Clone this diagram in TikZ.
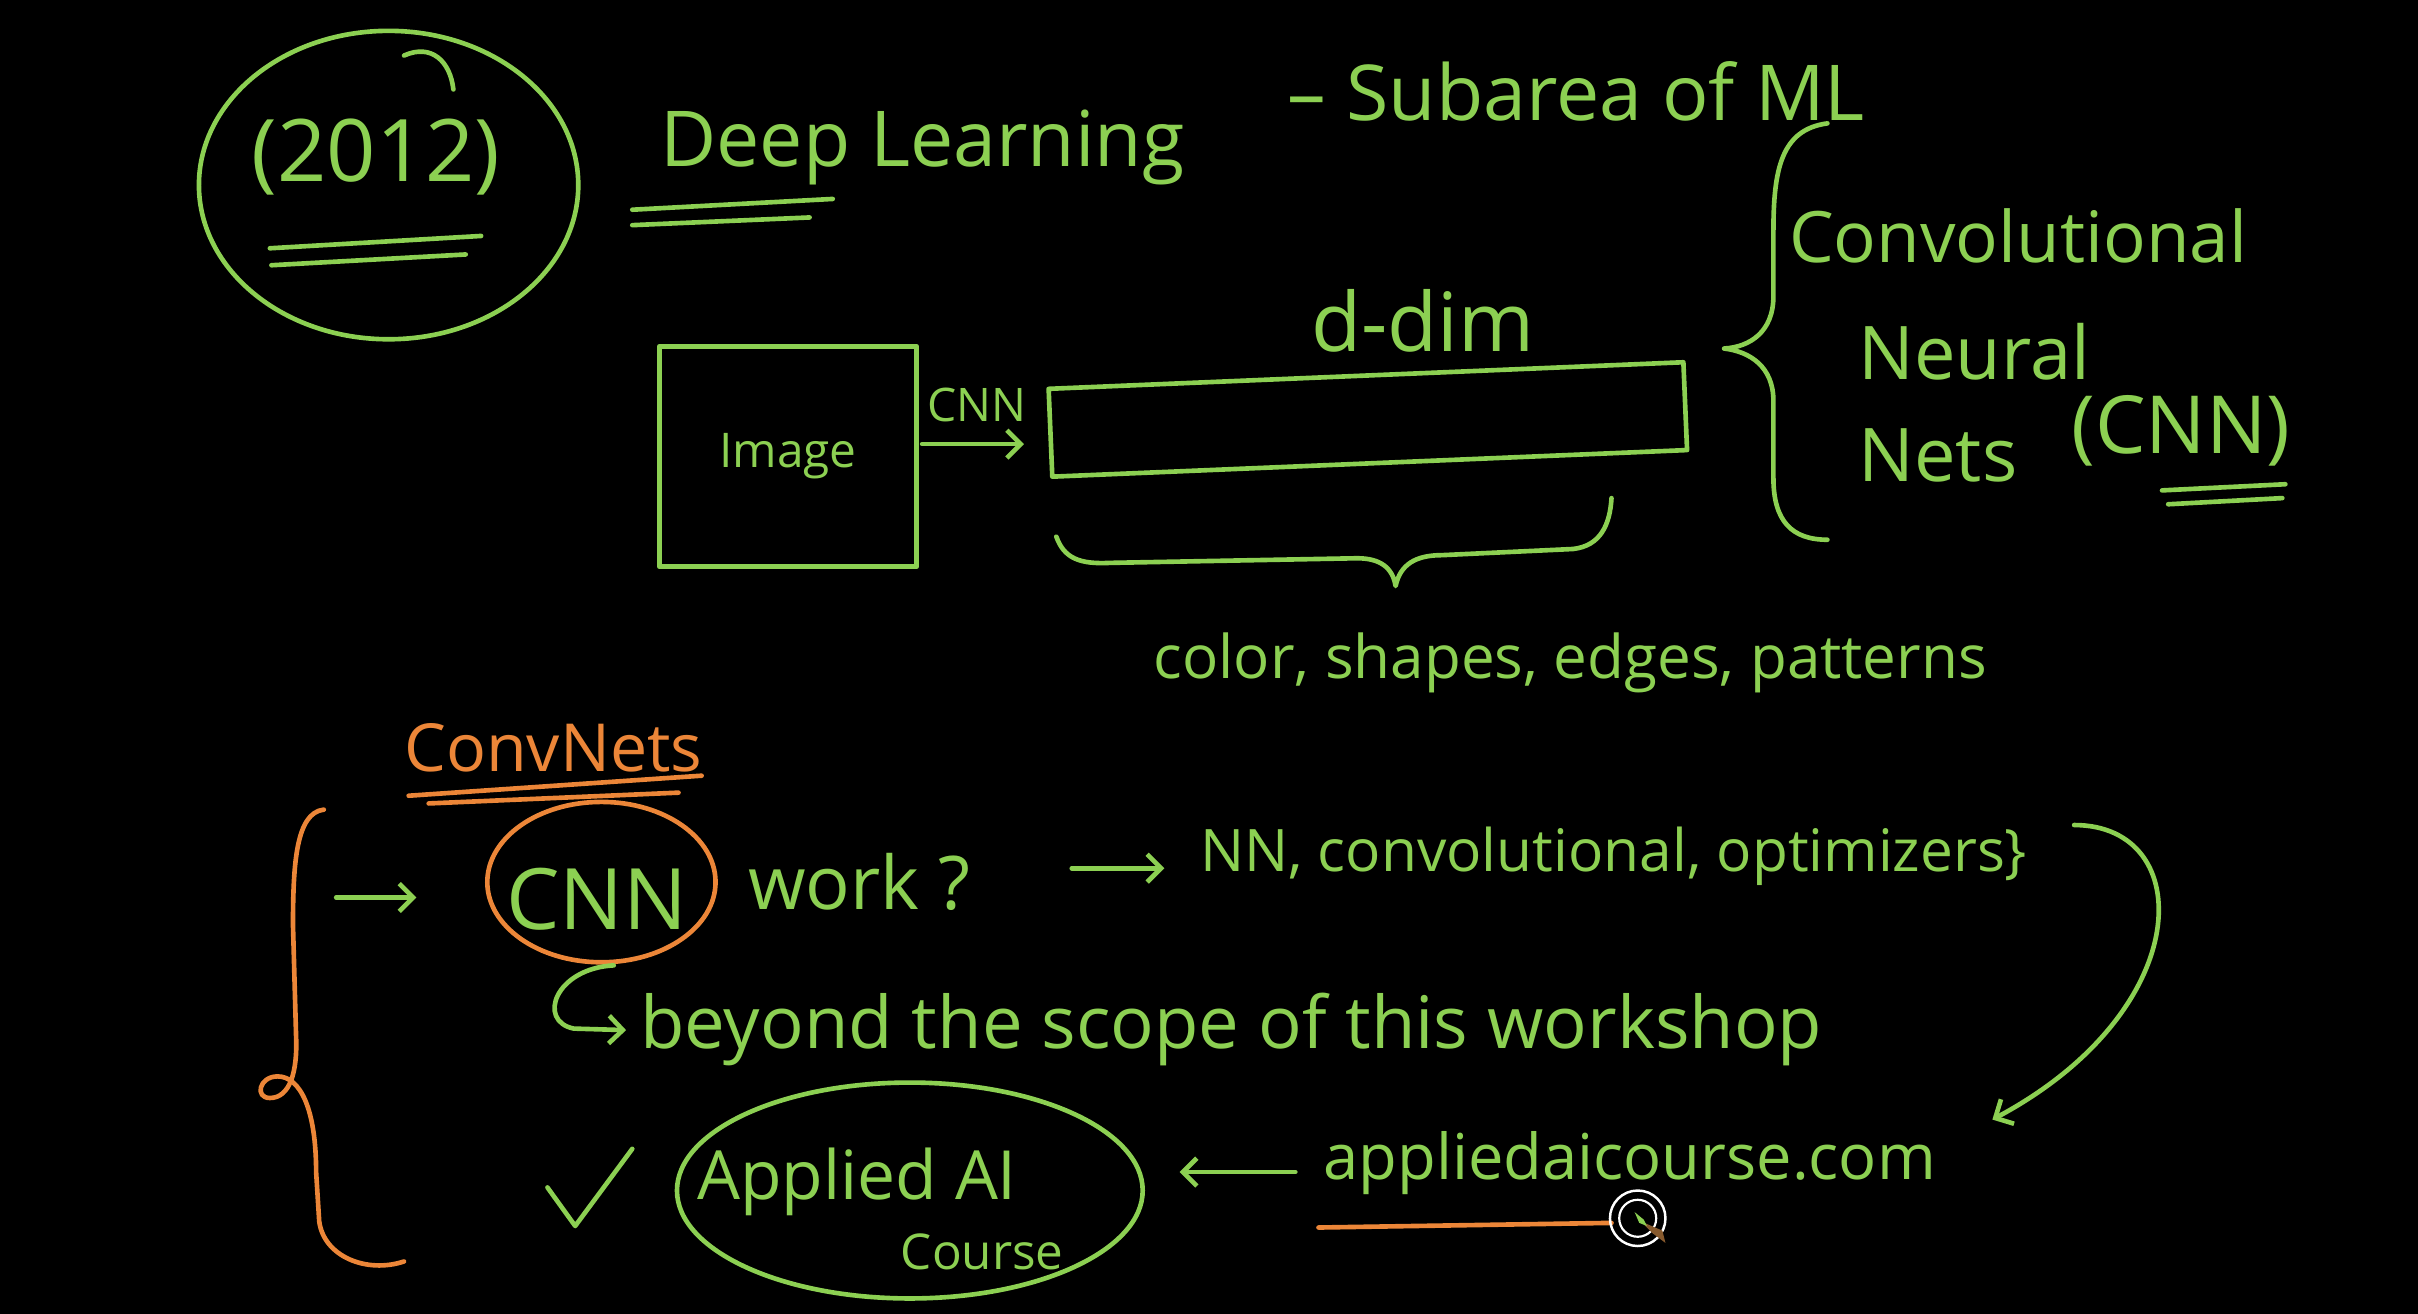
\documentclass[tikz,border=0pt]{standalone}
\usepackage{fontspec}
\setmainfont{Open Sans}
\usetikzlibrary{arrows.meta,shapes.geometric}
\definecolor{grn}{RGB}{140,208,82}
\definecolor{org}{RGB}{236,134,56}
\newcommand{\fsz}[1]{\fontsize{#1}{#1}\selectfont}
\begin{document}
\begin{tikzpicture}[x=1pt,y=-1pt,
  gl/.style={draw=grn, line width=3pt, line cap=round, line join=round},
  ol/.style={draw=org, line width=3pt, line cap=round, line join=round},
  hw/.style={text=grn, inner sep=0pt, anchor=base west},
  ho/.style={text=org, inner sep=0pt, anchor=base west},
  ring/.style={ellipse, gl, inner sep=0pt},
  arr/.style={-{Straight Barb[length=9pt,width=18pt]}},
]
\fill[black] (0,0) rectangle (1568,852);
\useasboundingbox (0,0) rectangle (1568,852);

% ---- 2012 ----
\node[ring, minimum width=246pt, minimum height=200pt] (ring2012) at (252,120) {};
\draw[gl] (262,36) .. controls (280,28) and (292,40) .. (294,58);
\node[hw, font=\fsz{56}] (y2012) at (163,118) {(2012)};
\draw[gl] (175,161) -- (312,153);
\draw[gl] (176,172) -- (302,165);

% ---- title ----
\node[hw, font=\fsz{50}] (deep) at (428,108) {Deep Learning};
\node[hw, font=\fsz{50}] (sub) at (835,78) {– Subarea of ML};
\draw[gl] (410,136) -- (540,129);
\draw[gl] (410,146) -- (525,141);

% ---- right brace and CNN name ----
\draw[gl] (1185,80) .. controls (1155,84) and (1150,110) .. (1150,150)
  -- (1150,192) .. controls (1150,215) and (1135,225) .. (1118,226)
  .. controls (1135,228) and (1150,238) .. (1150,260)
  -- (1150,310) .. controls (1150,338) and (1162,350) .. (1185,350);
\node[hw, font=\fsz{46}] (conv) at (1160,170) {Convolutional};
\node[hw, font=\fsz{48}] (neural) at (1205,246) {Neural};
\node[hw, font=\fsz{48}] (nets) at (1205,312) {Nets};
\node[hw, font=\fsz{52}] (cnnname) at (1343,294) {(CNN)};
\draw[gl] (1402,318) -- (1482,314);
\draw[gl] (1406,327) -- (1480,323);

% ---- image -> vector ----
\node[gl, draw, minimum width=167pt, minimum height=143pt, inner sep=0pt,
      text=grn, font=\fsz{31}] (img) at (511,296) {Image};
\node[gl, draw, rotate=2.4, minimum width=412pt, minimum height=57pt] (bar) at (887,272) {};
\node[hw, font=\fsz{30}] (cnnlbl) at (601,273) {CNN};
\coordinate (a1) at (598,288);
\coordinate (a2) at (664,288);
\draw[gl, arr] (a1) -- (a2);
\node[hw, font=\fsz{53}] (ddim) at (850,228) {d-dim};
\draw[gl] (685,348) .. controls (690,362) and (700,366) .. (720,365)
  -- (880,362) .. controls (895,362) and (903,368) .. (905,380)
  .. controls (908,366) and (918,360) .. (935,360)
  -- (1020,356) .. controls (1038,354) and (1044,340) .. (1045,323);
\node[hw, font=\fsz{39}] (feat) at (748,440) {color, shapes, edges, patterns};

% ---- ConvNets section ----
\node[ho, font=\fsz{43}] (convnets) at (262,500) {ConvNets};
\draw[ol] (265,516) -- (455,503);
\draw[ol] (278,521) -- (440,514);
\draw[ol] (210,525) .. controls (192,527) and (190,560) .. (190,600)
  -- (192,672) .. controls (193,695) and (188,712) .. (175,712)
  .. controls (165,712) and (168,698) .. (180,698)
  .. controls (195,698) and (205,720) .. (205,760)
  -- (207,792) .. controls (210,815) and (238,826) .. (262,818);
\coordinate (b1) at (218,582);
\coordinate (b2) at (270,582);
\draw[gl, arr] (b1) -- (b2);
\node[ring, draw=org, minimum width=148pt, minimum height=104pt] (cnnring) at (390,572) {};
\node[hw, font=\fsz{55}] (cnn) at (328,603) {CNN};
\node[hw, font=\fsz{48}] (work) at (485,590) {work ?};
\coordinate (c1) at (695,563);
\coordinate (c2) at (755,563);
\draw[gl, arr] (c1) -- (c2);
\node[hw, font=\fsz{38}] (nn) at (778,565) {NN, convolutional, optimizers\}};
\coordinate (h1) at (398,626);
\coordinate (h2) at (406,668);
\draw[gl, arr] (h1) .. controls (360,628) and (348,662) .. (372,667) -- (h2);
\node[hw, font=\fsz{47}] (beyond) at (415,680) {beyond the scope of this workshop};

% ---- Applied AI course ----
\draw[gl] (355,770) -- (373,795) -- (410,745);
\node[ring, minimum width=302pt, minimum height=140pt] (airing) at (590,772) {};
\node[hw, font=\fsz{44}] (applied) at (452,778) {Applied AI};
\node[hw, font=\fsz{32}] (course) at (584,823) {Course};
\coordinate (d1) at (840,760);
\coordinate (d2) at (765,760);
\draw[gl, arr] (d1) -- (d2);
\node[hw, font=\fsz{41}] (site) at (858,765) {appliedaicourse.com};
\draw[ol] (855,796) -- (1045,793);
\coordinate (e1) at (1345,535);
\coordinate (e2) at (1292,726);
\draw[gl, arr] (e1) .. controls (1425,535) and (1425,655) .. (e2);

% ---- cursor ----
\draw[white, line width=1.6pt] (1062,790) circle (18);
\draw[white, line width=1.4pt] (1062,790) circle (12);
\fill[brown!70!black] (1064,792) -- (1072,800) -- (1080,806) -- (1078,798) -- cycle;
\fill[grn] (1060,786) -- (1066,791) -- (1068,795) -- (1063,793) -- cycle;
\end{tikzpicture}
\end{document}
